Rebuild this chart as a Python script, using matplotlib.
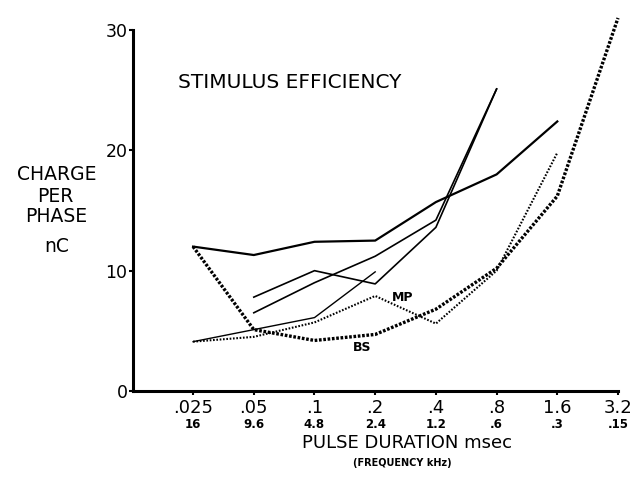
import matplotlib
matplotlib.use("Agg")
import matplotlib.pyplot as plt
import matplotlib.transforms as mtransforms

plt.rcParams['font.family'] = ['DejaVu Sans']

# pulse duration (msec) and matching frequency (kHz) tick labels
durations = ['.025', '.05', '.1', '.2', '.4', '.8', '1.6', '3.2']
frequencies = ['16', '9.6', '4.8', '2.4', '1.2', '.6', '.3', '.15']

# solid curves: (start index, charge per phase nC)
line_a = [12.0, 11.3, 12.4, 12.5, 15.7, 18.0, 22.4]
line_b = [7.8, 10.0, 8.9, 13.6, 25.1]
line_c = [6.5, 9.0, 11.2, 14.2, 25.1]
line_d = [4.1, 5.1, 6.1, 9.9]
start_a, start_b, start_c, start_d = 0, 1, 1, 0

# dotted curves
bs_vals = [12.0, 5.1, 4.2, 4.7, 6.8, 10.2, 16.2, 31.0]
mp_vals = [4.1, 4.5, 5.7, 7.9, 5.6, 10.0, 19.8]

fig = plt.figure(figsize=(6.41, 4.82), dpi=100)
ax = fig.add_axes([133 / 641, 91 / 482, (618 - 133) / 641, 361 / 482])


def xs(start, vals):
    return list(range(start, start + len(vals)))


ax.plot(xs(start_a, line_a), line_a, color='black', lw=1.6, clip_on=False)
ax.plot(xs(start_b, line_b), line_b, color='black', lw=1.2, clip_on=False)
ax.plot(xs(start_c, line_c), line_c, color='black', lw=1.2, clip_on=False)
ax.plot(xs(start_d, line_d), line_d, color='black', lw=1.0, clip_on=False)
ax.plot(xs(0, bs_vals), bs_vals, color='black', lw=2.4, linestyle=(0, (0.8, 0.5)), clip_on=False)
ax.plot(xs(0, mp_vals), mp_vals, color='black', lw=1.5, linestyle=(0, (0.8, 0.8)), clip_on=False)

ax.set_xlim(-0.99, 7)
ax.set_ylim(0, 30)
for side in ['top', 'right']:
    ax.spines[side].set_visible(False)
for side in ['left', 'bottom']:
    ax.spines[side].set_linewidth(2.2)

ax.set_yticks([0, 10, 20, 30])
ax.set_yticklabels(['0', '10', '20', '30'], fontsize=12.5)
ax.tick_params(axis='y', length=3, width=1.5, pad=1)

ax.set_xticks(range(len(durations)))
ax.set_xticklabels(durations, fontsize=13)
ax.tick_params(axis='x', length=3, width=1.5, pad=3)

trans = mtransforms.blended_transform_factory(ax.transData, fig.transFigure)
for i, f in enumerate(frequencies):
    ax.text(i, 1 - 425 / 482, f, transform=trans, ha='center', va='center',
            fontsize=8.5, fontweight='bold')

fig.text(407 / 641, 1 - 443 / 482, 'PULSE DURATION msec', ha='center', va='center', fontsize=13)
fig.text(402 / 641, 1 - 463 / 482, '(FREQUENCY kHz)', ha='center', va='center',
         fontsize=7, fontweight='bold')

fig.text(57 / 641, 1 - 175 / 482, 'CHARGE', ha='center', va='center', fontsize=13.5)
fig.text(55 / 641, 1 - 196 / 482, 'PER', ha='center', va='center', fontsize=13.5)
fig.text(56 / 641, 1 - 217 / 482, 'PHASE', ha='center', va='center', fontsize=13.5)
fig.text(57 / 641, 1 - 247 / 482, 'nC', ha='center', va='center', fontsize=13.5)

fig.text(178 / 641, 1 - 83 / 482, 'STIMULUS EFFICIENCY', ha='left', va='center', fontsize=14.5)

ax.text(3.45, 7.8, 'MP', ha='center', va='center', fontsize=9, fontweight='bold')
ax.text(2.78, 3.6, 'BS', ha='center', va='center', fontsize=9, fontweight='bold')

fig.savefig('out.png', dpi=100)
